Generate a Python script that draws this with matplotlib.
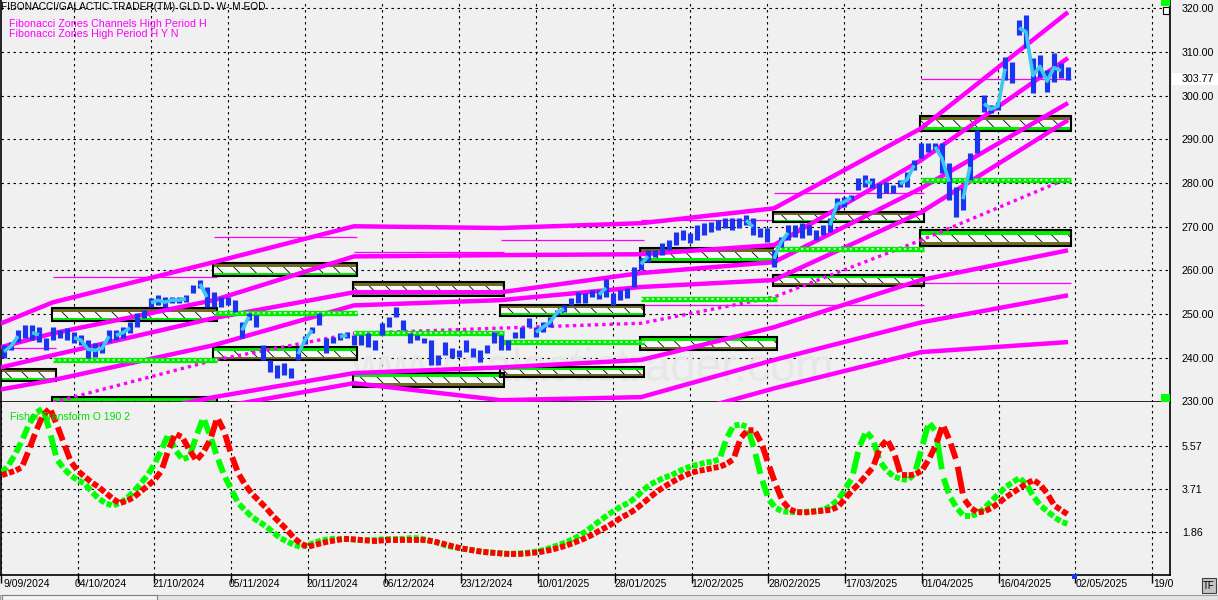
import numpy as np
import matplotlib
matplotlib.use('Agg')
import matplotlib.pyplot as plt
from matplotlib.patches import Rectangle
from matplotlib.collections import LineCollection

plt.rcParams['font.family'] = ['Liberation Sans', 'DejaVu Sans']
plt.rcParams['hatch.linewidth'] = 0.6

# ---------------- data ----------------
date_ticks = [0, 11, 22, 33, 44, 55, 66, 77, 88, 99, 110, 121, 132, 143, 154, 165]
date_labels = ['9/09/2024', '04/10/2024', '21/10/2024', '05/11/2024', '20/11/2024',
               '06/12/2024', '23/12/2024', '10/01/2025', '28/01/2025', '12/02/2025',
               '28/02/2025', '17/03/2025', '01/04/2025', '16/04/2025', '02/05/2025', '19/0']
price_ticks = [230, 240, 250, 260, 270, 280, 290, 300, 310, 320]
fisher_ticks = [1.86, 3.71, 5.57]
last_price = 303.77

bar_first = 1
bar_high = [242.9, 243.6, 246.3, 247.5, 247.5, 247.0, 244.5, 247.0, 246.3, 246.8,
            245.9, 245.2, 244.0, 243.3, 243.3, 246.3, 246.3, 247.0, 248.1, 250.2,
            250.9, 253.6, 254.3, 253.9, 253.9, 253.9, 254.3, 256.6, 257.8, 256.2,
            255.0, 253.9, 253.9, 253.2, 248.1, 250.2, 249.8, 242.9, 239.5, 238.3,
            238.8, 237.6, 242.2, 245.0, 247.0, 250.2, 244.5, 244.7, 245.6, 245.9,
            245.2, 245.2, 245.6, 244.0, 247.9, 249.3, 251.6, 248.6, 245.6, 245.2,
            244.5, 244.0, 240.6, 243.6, 242.2, 241.7, 244.0, 242.2, 241.7, 242.9,
            245.9, 245.2, 244.0, 245.9, 247.0, 249.1, 247.0, 248.1, 249.3, 250.9,
            252.0, 253.6, 255.0, 254.8, 255.5, 255.5, 258.1, 254.8, 255.5, 255.9,
            260.7, 262.8, 264.6, 264.6, 266.2, 266.9, 268.7, 269.2, 268.5, 270.3,
            270.8, 271.0, 271.5, 271.9, 271.9, 271.9, 272.6, 271.9, 269.7, 269.7,
            264.6, 267.6, 270.3, 270.3, 270.8, 270.3, 269.2, 270.3, 271.9, 276.5,
            276.8, 277.2, 281.1, 281.8, 281.1, 280.0, 280.2, 279.5, 280.6, 282.5,
            285.2, 289.1, 289.1, 289.1, 289.1, 284.5, 279.0, 278.8, 286.8, 292.1,
            300.1, 297.8, 298.5, 308.8, 307.6, 317.2, 318.4, 308.6, 309.2, 305.8,
            309.7, 307.4, 306.5]
bar_low = [239.9, 241.7, 243.6, 244.5, 244.0, 243.6, 241.7, 244.0, 244.5, 244.0,
           243.3, 242.9, 239.9, 240.1, 241.0, 243.6, 244.0, 244.5, 245.6, 247.0,
           249.0, 251.6, 252.0, 251.6, 252.5, 252.5, 252.7, 254.8, 256.0, 251.6,
           251.6, 251.6, 252.0, 250.4, 244.5, 248.6, 247.0, 239.5, 236.7, 235.3,
           236.0, 235.3, 239.5, 243.2, 245.6, 247.5, 241.1, 243.3, 244.0, 244.5,
           242.9, 242.9, 242.4, 241.7, 245.2, 247.0, 249.3, 246.3, 243.3, 244.0,
           243.3, 238.3, 238.3, 240.6, 239.9, 240.1, 241.3, 240.1, 239.0, 241.0,
           243.3, 241.7, 241.7, 244.5, 244.5, 247.0, 244.7, 245.9, 247.0, 249.8,
           250.4, 252.0, 252.5, 252.5, 253.9, 253.4, 253.9, 252.0, 253.2, 253.6,
           256.2, 260.0, 261.9, 263.0, 263.5, 264.6, 265.8, 266.9, 266.2, 266.9,
           268.1, 268.7, 269.2, 269.7, 269.2, 269.7, 270.3, 268.1, 267.6, 266.5,
           260.7, 265.3, 266.9, 267.6, 267.4, 268.1, 266.9, 268.1, 268.7, 273.8,
           274.5, 276.1, 278.4, 279.0, 278.8, 276.5, 277.7, 277.7, 279.0, 279.0,
           282.9, 285.7, 287.0, 287.5, 282.2, 276.1, 272.2, 273.8, 280.6, 286.8,
           296.2, 296.0, 296.7, 303.5, 302.8, 313.8, 310.8, 300.6, 304.2, 300.8,
           303.1, 304.0, 303.5]
cyan_ranges = [(1, 3), (5, 6), (11, 16), (17, 19), (22, 27), (29, 30), (35, 36), (43, 45),
               (49, 50), (77, 81), (86, 87), (92, 93), (107, 108), (111, 113), (119, 122),
               (124, 125), (129, 131), (134, 136), (138, 139), (141, 144), (146, 152)]

# monthly periods (bar index where each period starts; last = end)
period_start = [0, 8, 31, 51, 72, 92, 111, 132, 153]
upper_zone_top = [237.4, 251.4, 261.6, 257.3, 252.0, 265.1, 273.3, 295.3]
upper_zone_bot = [234.6, 248.4, 258.7, 254.1, 249.5, 261.9, 271.0, 291.9]
lower_zone_top = [None, 231.0, 242.4, 236.5, 237.8, 244.7, 258.9, 269.2]
lower_zone_bot = [None, 228.0, 239.4, 233.3, 235.6, 241.7, 256.4, 265.5]
green_level = [None, 239.5, 250.2, 245.6, 243.6, 253.4, 265.0, 280.6]
thin_levels = [(0, 242.2), (1, 258.4), (2, 267.6), (3, 264.2), (4, 266.9), (5, 271.5),
               (5, 252.0), (6, 277.7), (6, 252.0), (7, 257.1)]

# channel lines, values at period_start boundaries
channel_upper = [
    [247.5, 252.7, 261.9, 270.1, 269.7, 270.8, 274.2, 292.5, 319.1],
    [242.2, 245.6, 253.2, 263.2, 263.5, 263.7, 265.8, 285.2, 308.6],
    [237.6, 240.6, 249.1, 255.0, 255.0, 259.4, 261.9, 278.8, 298.3],
    [232.6, 234.9, 242.9, 252.0, 253.2, 256.2, 257.8, 273.3, 294.4],
]
channel_lower = [
    [221.1, 223.4, 231.0, 236.5, 237.8, 239.5, 247.0, 257.8, 264.6],
    [216.6, 220.0, 228.5, 234.2, 230.3, 231.0, 239.5, 248.1, 254.3],
    [212.0, 214.3, 221.1, 224.6, 224.6, 224.6, 233.0, 241.3, 243.6],
]
dotted_trend = [229.8, 239.45, 245.6, 246.8, 247.9, 253.9, 266.9, 281.1]  # at period_start[1:]

fisher_green = [4.4, 4.7, 5.2, 5.8, 6.5, 7.0, 7.2, 6.2, 5.0, 4.6,
                4.3, 4.1, 3.95, 3.6, 3.3, 3.1, 3.0, 3.1, 3.3, 3.6,
                3.95, 4.3, 4.8, 5.4, 6.1, 5.4, 5.0, 5.1, 6.0, 6.8,
                6.0, 5.1, 4.3, 3.7, 3.1, 2.8, 2.5, 2.3, 2.1, 1.85,
                1.6, 1.45, 1.3, 1.22, 1.3, 1.4, 1.5, 1.55, 1.57, 1.57,
                1.55, 1.52, 1.5, 1.5, 1.52, 1.55, 1.55, 1.55, 1.57, 1.6,
                1.58, 1.52, 1.45, 1.35, 1.25, 1.2, 1.15, 1.1, 1.05, 1.0,
                0.98, 0.95, 0.93, 0.92, 0.93, 0.95, 0.98, 1.03, 1.1, 1.2,
                1.3, 1.42, 1.55, 1.72, 1.92, 2.15, 2.38, 2.6, 2.8, 2.98,
                3.12, 3.35, 3.65, 3.9, 4.05, 4.2, 4.3, 4.45, 4.6, 4.7,
                4.78, 4.85, 4.9, 5.0, 5.9, 6.45, 6.5, 6.4, 5.4, 4.2,
                3.3, 2.9, 2.75, 2.72, 2.72, 2.72, 2.75, 2.78, 2.82, 3.0,
                3.25, 3.7, 4.2, 5.5, 6.2, 5.85, 4.9, 4.5, 4.25, 4.15,
                4.1, 4.4, 5.5, 6.6, 6.2, 4.3, 3.4, 2.9, 2.55, 2.55,
                2.65, 2.9, 3.2, 3.5, 3.8, 4.0, 4.2, 3.9, 3.4, 3.0,
                2.75, 2.5, 2.3, 2.2]
fisher_red = [4.3, 4.4, 4.5, 4.65, 5.4, 6.2, 6.9, 7.2, 6.5, 5.7,
              4.9, 4.5, 4.25, 4.0, 3.8, 3.55, 3.3, 3.1, 3.2, 3.35,
              3.6, 3.85, 4.1, 4.5, 5.4, 6.1, 5.95, 5.4, 4.95, 5.3,
              5.85, 6.8, 6.2, 5.2, 4.4, 3.9, 3.5, 3.2, 2.9, 2.55,
              2.25, 1.95, 1.6, 1.35, 1.22, 1.3, 1.38, 1.45, 1.5, 1.55,
              1.55, 1.53, 1.5, 1.48, 1.48, 1.5, 1.52, 1.52, 1.52, 1.52,
              1.52, 1.5, 1.45, 1.38, 1.3, 1.22, 1.15, 1.1, 1.05, 1.0,
              0.97, 0.95, 0.92, 0.9, 0.9, 0.92, 0.95, 0.98, 1.03, 1.1,
              1.18, 1.27, 1.38, 1.5, 1.62, 1.78, 1.95, 2.1, 2.3, 2.5,
              2.65, 2.85, 3.1, 3.35, 3.6, 3.8, 3.98, 4.15, 4.3, 4.42,
              4.5, 4.55, 4.62, 4.67, 4.8, 5.0, 5.9, 6.25, 6.26, 5.7,
              4.8, 3.95, 3.2, 2.85, 2.72, 2.7, 2.72, 2.75, 2.78, 2.82,
              2.95, 3.3, 3.65, 3.95, 4.3, 4.65, 5.5, 5.85, 5.3, 4.3,
              4.3, 4.35, 4.5, 5.0, 5.6, 6.5, 5.8, 4.9, 3.3, 2.9,
              2.7, 2.75, 2.9, 3.1, 3.35, 3.55, 3.75, 3.95, 4.1, 3.9,
              3.5, 3.0, 2.8, 2.6]

# ---------------- style ----------------
W, H = 1218, 600
BG = '#f0f0f0'
BLUE = '#1a34f0'
CYAN = '#3cc8f0'
MAG = '#ff00ff'
LIME = '#00ee00'
OLIVE = '#6e6e22'
GRID = dict(color='black', lw=0.8, linestyle=(0, (2.2, 3.2)))


def fx(px):
    return px / W


def fy(py):
    return 1 - py / H


fig = plt.figure(figsize=(W / 100, H / 100), dpi=100, facecolor=BG)
ax = fig.add_axes([fx(1), fy(401.5), fx(1169), 401.5 / H], facecolor=BG)
axf = fig.add_axes([fx(1), fy(575), fx(1169), 173.5 / H], facecolor=BG)
xlim = (0.571, 167.571)
for a in (ax, axf):
    a.set_xlim(*xlim)
    a.spines['top'].set_visible(False)
    for s in ('left', 'right', 'bottom'):
        a.spines[s].set_color('black')
        a.spines[s].set_linewidth(1.2)
ax.set_ylim(230, 321.88)
axf.set_ylim(0, 7.495)

# grid
for t in date_ticks:
    ax.axvline(t, zorder=0.5, **GRID)
    axf.axvline(t, zorder=0.5, **GRID)
for p in price_ticks[1:]:
    ax.axhline(p, zorder=0.5, **GRID)
for v in fisher_ticks:
    axf.axhline(v, zorder=0.5, **GRID)

# axes ticks
ax.set_xticks([])
ax.yaxis.tick_right()
ax.set_yticks(price_ticks)
ax.set_yticklabels(['%.2f' % p for p in price_ticks])
ax.tick_params(axis='y', length=0, pad=8.5, labelsize=7.7, colors='black')
axf.yaxis.tick_right()
axf.set_yticks(fisher_ticks)
axf.set_yticklabels(['%.2f' % v for v in fisher_ticks])
axf.tick_params(axis='y', length=0, pad=8.5, labelsize=7.7)
axf.set_xticks(date_ticks)
axf.set_xticklabels([])
axf.tick_params(axis='x', direction='out', length=6, width=1, color='black')

# watermark
ax.text(0.5 * (period_start[3] + period_start[6]) + 4, 232.5, 'www.galactictrader.com',
        fontsize=33, color='#e7e7e7', ha='center', va='bottom', zorder=0.6)

# thin level lines
for per, lvl in thin_levels:
    ax.hlines(lvl, period_start[per], period_start[per + 1] + 0.4, color=MAG, lw=0.9, zorder=1)
ax.hlines(last_price, period_start[7], period_start[8] + 0.4, color=MAG, lw=0.9, zorder=1)


def zone(x0, x1, top, bot, olive_top):
    h = top - bot
    s = h * 0.27
    ax.add_patch(Rectangle((x0, bot), x1 - x0, h, facecolor='#f8f8f8', edgecolor='black',
                           hatch='\\\\', lw=0, zorder=2))
    t_col, b_col = (OLIVE, LIME) if olive_top else (LIME, OLIVE)
    ax.add_patch(Rectangle((x0, top - s), x1 - x0, s, facecolor=t_col, lw=0, zorder=2.1))
    ax.add_patch(Rectangle((x0, bot), x1 - x0, s, facecolor=b_col, lw=0, zorder=2.1))
    ax.add_patch(Rectangle((x0, bot), x1 - x0, h, fill=False, edgecolor='black', lw=1.5, zorder=2.2))


for k in range(8):
    x0 = period_start[k] - 0.2
    x1 = period_start[k + 1] + 0.4
    zone(x0, x1, upper_zone_top[k], upper_zone_bot[k], True)
    if lower_zone_top[k] is not None:
        zone(x0, x1, lower_zone_top[k], lower_zone_bot[k], False)

# channels
for ch in channel_upper + channel_lower:
    ax.plot(period_start, ch, color=MAG, lw=3.2, solid_capstyle='butt', zorder=3)
ax.plot(period_start[1:], dotted_trend, color=MAG, lw=2.4, linestyle=(0, (1.0, 1.2)), zorder=3.5)

# green dotted levels
for k in range(1, 8):
    lvl = green_level[k]
    ax.hlines(lvl, period_start[k], period_start[k + 1] + 0.4, color=LIME, lw=3.8, zorder=4)
    ax.hlines(lvl, period_start[k], period_start[k + 1] + 0.4, color='#d8ffd8', lw=1.3,
              linestyle=(0, (1.2, 1.8)), zorder=4.1)

# price bars
idx = np.arange(bar_first, bar_first + len(bar_high))
hi = np.array(bar_high)
lo = np.array(bar_low)
ax.vlines(idx, lo, hi, color=BLUE, lw=3.7, zorder=5)
mid = (hi + lo) / 2
for a0, a1 in cyan_ranges:
    sel = (idx >= a0) & (idx <= a1)
    ax.plot(idx[sel], mid[sel], color=CYAN, lw=2.6, solid_capstyle='butt', zorder=6)

# fisher transform


def fisher_segments(vals):
    segs = []
    for i in range(len(vals) - 1):
        y0, y1 = vals[i], vals[i + 1]
        segs.append([(i + 0.14, y0 + 0.14 * (y1 - y0)), (i + 0.86, y0 + 0.86 * (y1 - y0))])
    return segs


axf.add_collection(LineCollection(fisher_segments(fisher_green), colors='#00ff00',
                                  linewidths=4.2, capstyle='butt', zorder=3))
axf.add_collection(LineCollection(fisher_segments(fisher_red), colors='#ff0000',
                                  linewidths=4.2, capstyle='butt', zorder=3.2))

# ---------------- texts ----------------
fig.text(fx(1), fy(6.5), 'FIBONACCI/GALACTIC TRADER(TM)', fontsize=7.3, va='center', ha='left')
fig.text(fx(170), fy(6.5), '-  GLD D- W- M EOD', fontsize=7.3, va='center', ha='left')
fig.text(fx(9), fy(24), 'Fibonacci Zones Channels High Period H', fontsize=7.7, color=MAG,
         va='center', ha='left')
fig.text(fx(9), fy(34), 'Fibonacci Zones High Period H Y N', fontsize=7.7, color=MAG,
         va='center', ha='left')
fig.text(fx(10), fy(417), 'Fisher Transform O 190 2', fontsize=7.6, color='#00dd00',
         va='center', ha='left', zorder=10)

# date labels
for t, lab in zip(date_ticks, date_labels):
    xpix = ax.transData.transform((t, 250))[0]
    if t == date_ticks[0]:
        xpix = 3
    else:
        xpix += 1
    fig.text(xpix / W, fy(584), lab, fontsize=7.5, va='center', ha='left')

# last price box
ypix = ax.transData.transform((0, last_price))[1]
fig.patches.append(Rectangle((fx(1172), (ypix - 6) / H), fx(46), 12 / H, transform=fig.transFigure,
                             facecolor='white', edgecolor='none', zorder=5))
fig.text(fx(1182), ypix / H, '%.2f' % last_price, fontsize=7.7, va='center', ha='left', zorder=6)

# small decorations
fig.patches.append(Rectangle((fx(1161), fy(6)), fx(9), 6 / H, transform=fig.transFigure,
                             facecolor='#00ff00', edgecolor='none'))
fig.patches.append(Rectangle((fx(1162.5), fy(13.5)), fx(6), 6 / H, transform=fig.transFigure,
                             facecolor='white', edgecolor='black', lw=0.8))
fig.patches.append(Rectangle((fx(1161), fy(402)), fx(9), 8 / H, transform=fig.transFigure,
                             facecolor='#00ff00', edgecolor='none'))
fig.patches.append(Rectangle((fx(1072), fy(579)), fx(5), 5 / H, transform=fig.transFigure,
                             facecolor='#1a34f0', edgecolor='none'))
fig.patches.append(Rectangle((fx(1202), fy(593)), fx(14), 15 / H, transform=fig.transFigure,
                             facecolor='#c4c4c4', edgecolor='#404040', lw=0.8))
fig.text(fx(1209), fy(586), 'TF', fontsize=7, ha='center', va='center')
fig.patches.append(Rectangle((fx(0), fy(600)), fx(1218), 5 / H, transform=fig.transFigure,
                             facecolor='#e4e4e4', edgecolor='#a0a0a0', lw=0.8))
fig.patches.append(Rectangle((fx(2), fy(600)), fx(155), 5 / H, transform=fig.transFigure,
                             facecolor='#f4f4f4', edgecolor='#808080', lw=0.8))

fig.savefig('out.png', dpi=100, facecolor=BG)
